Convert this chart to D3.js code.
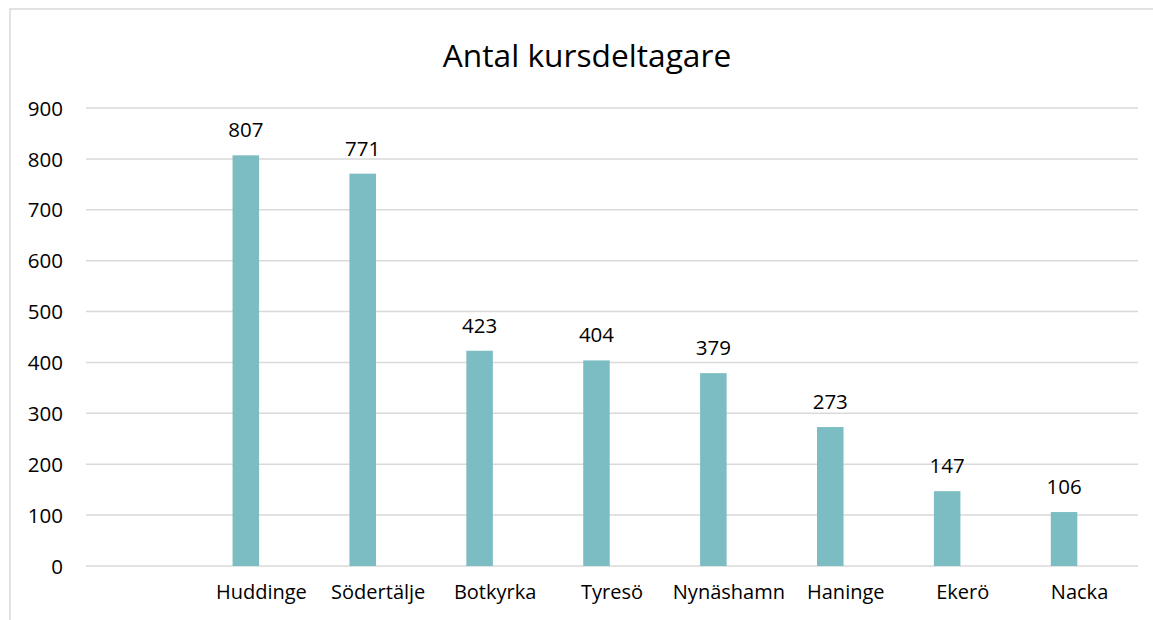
<!DOCTYPE html>
<html>
<head>
<meta charset="utf-8">
<script src="https://cdn.jsdelivr.net/npm/d3@7"></script>
<style>
  body { margin: 0; background: #fff; }
  text { font-family: "Open Sans", sans-serif; fill: #000; }
</style>
</head>
<body>
<div class="chart"></div>
<script>
// data
var categories = ["", "Huddinge", "Södertälje", "Botkyrka", "Tyresö", "Nynäshamn", "Haninge", "Ekerö", "Nacka"];
var values = [null, 807, 771, 423, 404, 379, 273, 147, 106];
var seriesNames = ["Antal kursdeltagare", ""];
var yTicks = [0, 100, 200, 300, 400, 500, 600, 700, 800, 900];
var title = "Antal kursdeltagare";

// canvas
var width = 1153, height = 620;
var svg = d3.select(".chart").append("svg")
            .attr("width", width)
            .attr("height", height);

var plot = {left: 86, right: 1138, top: 108, bottom: 566};

// chart border (cut off at right and bottom)
svg.append("path")
   .attr("d", "M10,620 L10,9 L1153,9")
   .attr("fill", "none")
   .attr("stroke", "#d9d9d9")
   .attr("stroke-width", 1.5);

// scales
var xScale = d3.scaleBand().domain(categories).range([plot.left, plot.right]);
var x1 = d3.scaleBand().domain(seriesNames).range([0, xScale.bandwidth()])
           .paddingInner(0.145).paddingOuter(0.956);
var yScale = d3.scaleLinear().domain([0, 900]).range([plot.bottom, plot.top]);

// gridlines
svg.append("g").selectAll("line").data(yTicks).enter().append("line")
   .attr("x1", plot.left)
   .attr("x2", plot.right)
   .attr("y1", function(d) { return yScale(d); })
   .attr("y2", function(d) { return yScale(d); })
   .attr("stroke", "#d9d9d9")
   .attr("stroke-width", 1.5);

// y axis labels
var yAxis = d3.axisLeft(yScale).tickValues(yTicks).tickSize(0).tickPadding(0);
var gy = svg.append("g").attr("transform", "translate(63,0)").call(yAxis);
gy.select(".domain").remove();
gy.selectAll("text")
  .attr("font-family", "Open Sans")
  .attr("font-size", 20.5)
  .attr("fill", "#000")
  .attr("dy", "0.35em");

// x axis labels
var xAxis = d3.axisBottom(xScale).tickSize(0).tickPadding(0);
var gx = svg.append("g").attr("transform", "translate(0,585)").call(xAxis);
gx.select(".domain").remove();
gx.selectAll("text")
  .attr("font-family", "Open Sans")
  .attr("font-size", 20)
  .attr("fill", "#000")
  .attr("dy", "0.71em");

var data = categories.map(function(c, i) { return {cat: c, value: values[i]}; })
                     .filter(function(d) { return d.value !== null; });

// bars
svg.selectAll(".bar").data(data).enter().append("rect")
   .attr("class", "bar")
   .attr("x", function(d) { return xScale(d.cat) + x1(seriesNames[0]); })
   .attr("width", x1.bandwidth())
   .attr("y", function(d) { return yScale(d.value); })
   .attr("height", function(d) { return yScale(0) - yScale(d.value); })
   .attr("fill", "#7bbdc2");

// value labels
svg.selectAll(".value").data(data).enter().append("text")
   .attr("class", "value")
   .attr("text-anchor", "middle")
   .attr("font-size", 20.5)
   .attr("x", function(d) { return xScale(d.cat) + x1(seriesNames[0]) + x1.bandwidth() / 2; })
   .attr("y", function(d) { return yScale(d.value) - 18; })
   .text(function(d) { return d.value; });

// title
svg.append("text")
   .attr("x", 587)
   .attr("y", 67)
   .attr("text-anchor", "middle")
   .attr("font-size", 31.7)
   .text(title);
</script>
</body>
</html>
